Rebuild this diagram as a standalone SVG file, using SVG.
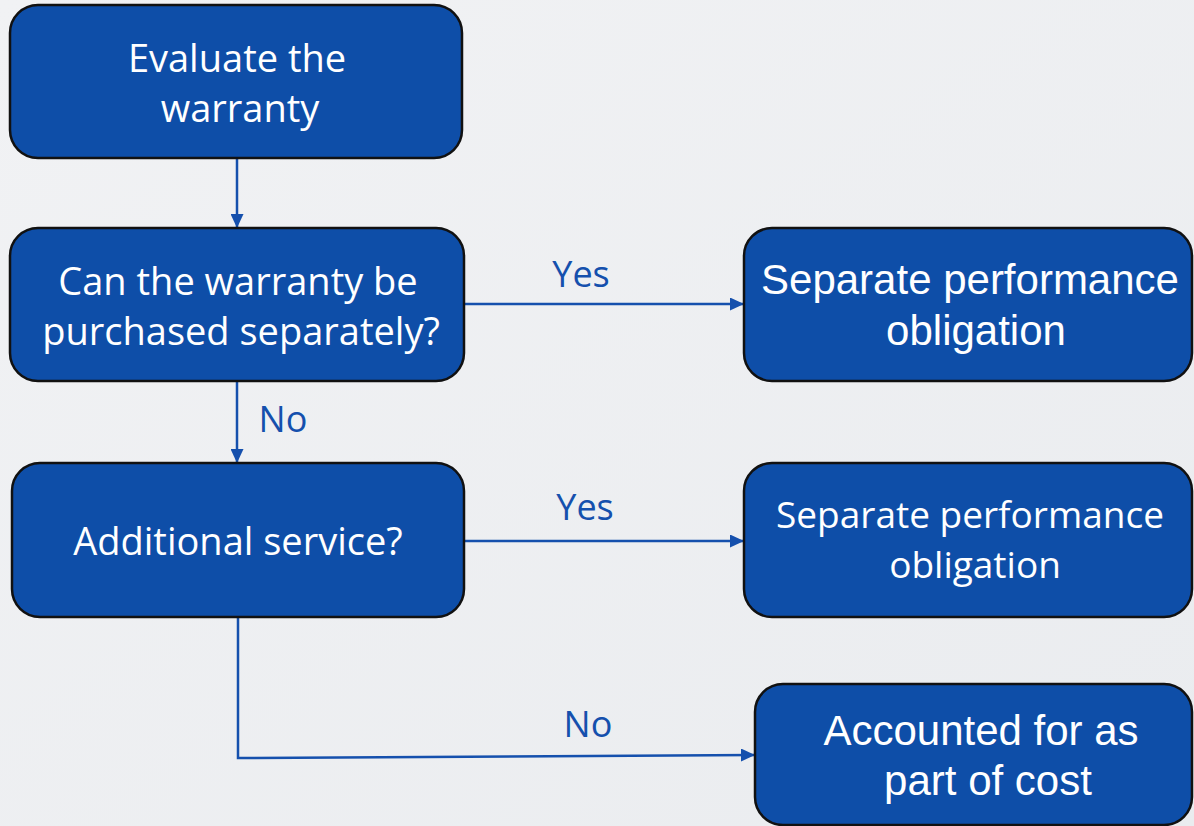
<svg xmlns="http://www.w3.org/2000/svg" width="1194" height="826" viewBox="0 0 1194 826">
<defs>
<linearGradient id="bg" x1="0" y1="0" x2="1" y2="1">
<stop offset="0" stop-color="#f1f2f4"/>
<stop offset="1" stop-color="#eaecef"/>
</linearGradient>
<marker id="arr" viewBox="0 0 14 13" refX="13" refY="6.5" markerWidth="14" markerHeight="13" markerUnits="userSpaceOnUse" orient="auto">
<path d="M0,0 L14,6.5 L0,13 Z" fill="#1550ad"/>
</marker>
<style>
.box{fill:#0e4ea8;stroke:#111;stroke-width:2.5}
.t1{font-family:"Open Sans","Liberation Sans",sans-serif;font-size:38px;fill:#fff;text-anchor:middle}
.t2{font-family:"Liberation Sans",Arial,sans-serif;font-size:42px;fill:#fff;text-anchor:middle}
.lbl{font-family:"Open Sans","Liberation Sans",sans-serif;font-size:36px;fill:#1550ad;text-anchor:middle}
.c{fill:none;stroke:#1550ad;stroke-width:2.5}
</style>
</defs>
<rect width="1194" height="826" fill="url(#bg)"/>
<g id="connectors">
<line class="c" x1="237" y1="158" x2="237" y2="227" marker-end="url(#arr)"/>
<line class="c" x1="464" y1="304" x2="743" y2="304" marker-end="url(#arr)"/>
<line class="c" x1="237" y1="381" x2="237" y2="462" marker-end="url(#arr)"/>
<line class="c" x1="464" y1="541" x2="743" y2="541" marker-end="url(#arr)"/>
<path class="c" d="M238,617 L238,758 L754,755" marker-end="url(#arr)"/>
<text class="lbl" x="581" y="287">Yes</text>
<text class="lbl" x="283" y="432">No</text>
<text class="lbl" x="585" y="520">Yes</text>
<text class="lbl" x="588" y="737">No</text>
</g>
<g id="evaluate">
<rect class="box" x="10" y="5" width="452" height="153" rx="28"/>
<text class="t1" x="237" y="72">Evaluate the</text>
<text class="t1" x="240" y="122">warranty</text>
</g>
<g id="purchased">
<rect class="box" x="10" y="228" width="454" height="153" rx="28"/>
<text class="t1" x="238" y="295">Can the warranty be</text>
<text class="t1" x="241" y="345">purchased separately?</text>
</g>
<g id="additional">
<rect class="box" x="12" y="463" width="452" height="154" rx="28"/>
<text class="t1" x="238" y="555">Additional service?</text>
</g>
<g id="separate1">
<rect class="box" x="744" y="228" width="448" height="153" rx="28"/>
<text class="t2" x="970" y="294">Separate performance</text>
<text class="t2" x="976" y="345">obligation</text>
</g>
<g id="separate2">
<rect class="box" x="744" y="463" width="448" height="154" rx="28"/>
<text class="t1" x="970" y="528" style="font-size:37px">Separate performance</text>
<text class="t1" x="975" y="578" style="font-size:37px">obligation</text>
</g>
<g id="accounted">
<rect class="box" x="755" y="684" width="437" height="141" rx="28"/>
<text class="t2" x="981" y="745">Accounted for as</text>
<text class="t2" x="988" y="795">part of cost</text>
</g>
</svg>
